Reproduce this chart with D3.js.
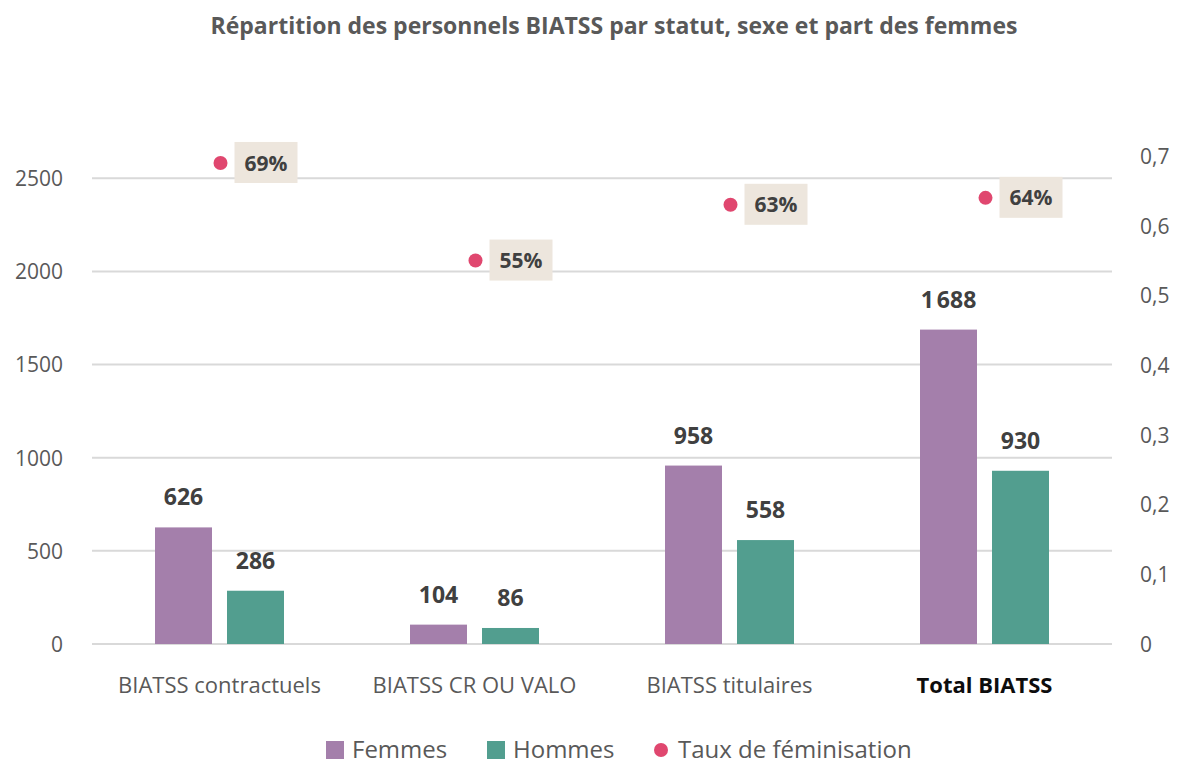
<!DOCTYPE html>
<html>
<head>
<meta charset="utf-8">
<script src="https://cdn.jsdelivr.net/npm/d3@7"></script>
<style>
  body { margin: 0; background: #fff; }
  svg { display: block; }
  svg text { font-family: "Open Sans", "Noto Sans", sans-serif; }
</style>
</head>
<body>
<svg id="chart"></svg>
<script>
// data
const categories = ["BIATSS contractuels", "BIATSS CR OU VALO", "BIATSS titulaires", "Total BIATSS"];
const femmes = [626, 104, 958, 1688];
const hommes = [286, 86, 558, 930];
const taux = [0.69, 0.55, 0.63, 0.64];
const leftTicks = [0, 500, 1000, 1500, 2000, 2500];
const rightTicks = [0, 0.1, 0.2, 0.3, 0.4, 0.5, 0.6, 0.7];

const W = 1183, H = 765;
const colF = "#a47fab", colH = "#529e8f", colDot = "#e0476f";
const svg = d3.select("#chart").attr("width", W).attr("height", H);

const x = d3.scaleBand().domain(categories).range([92, 1112]);
const yL = d3.scaleLinear().domain([0, 2620]).range([644, 156]);
const yR = d3.scaleLinear().domain([0, 0.7]).range([644, 156]);

// thin space as thousands separator, like "1 688"
const fmt = (v) => d3.format(",")(v).replace(/,/g, "\u202f");

// title
svg.append("text")
  .attr("x", 614).attr("y", 34)
  .attr("text-anchor", "middle")
  .style("font-size", "23px").style("font-weight", "bold")
  .attr("fill", "#595959")
  .text("Répartition des personnels BIATSS par statut, sexe et part des femmes");

// gridlines
svg.append("g").selectAll("line").data(leftTicks).enter().append("line")
  .attr("x1", 92).attr("x2", 1112)
  .attr("y1", (d) => yL(d)).attr("y2", (d) => yL(d))
  .attr("stroke", "#d9d9d9").attr("stroke-width", 2);

// left axis
const axL = svg.append("g").attr("transform", "translate(69,0)")
  .call(d3.axisLeft(yL).tickValues(leftTicks).tickSize(0).tickPadding(6).tickFormat(d3.format("d")));
axL.attr("font-family", null).attr("font-size", null);
axL.select(".domain").remove();
axL.selectAll("text").style("font-size", "21px").attr("fill", "#595959").attr("dy", "0.35em");

// right axis
const axR = svg.append("g").attr("transform", "translate(1134,0)")
  .call(d3.axisRight(yR).tickValues(rightTicks).tickSize(0).tickPadding(6)
    .tickFormat((d) => d === 0 ? "0" : d3.format(".1f")(d).replace(".", ",")));
axR.attr("font-family", null).attr("font-size", null);
axR.select(".domain").remove();
axR.selectAll("text").style("font-size", "21px").attr("fill", "#595959").attr("dy", "0.35em");

// bars
const barW = 57, gap = 15;
const cx = (c) => x(c) + x.bandwidth() / 2;

const series = [
  { vals: femmes, col: colF, off: -gap / 2 - barW },
  { vals: hommes, col: colH, off: gap / 2 }
];
series.forEach((s) => {
  const g = svg.append("g");
  g.selectAll("rect").data(categories).enter().append("rect")
    .attr("x", (c) => cx(c) + s.off)
    .attr("y", (c, i) => yL(s.vals[i]))
    .attr("width", barW)
    .attr("height", (c, i) => yL(0) - yL(s.vals[i]))
    .attr("fill", s.col);
  g.selectAll("text").data(categories).enter().append("text")
    .attr("x", (c) => cx(c) + s.off + barW / 2)
    .attr("y", (c, i) => yL(s.vals[i]) - 22)
    .attr("text-anchor", "middle")
    .style("font-size", "23px").style("font-weight", "bold")
    .attr("fill", "#404040")
    .text((c, i) => fmt(s.vals[i]));
});

// taux dots + labels
const gT = svg.append("g");
gT.selectAll("circle").data(categories).enter().append("circle")
  .attr("cx", (c) => cx(c) + 1)
  .attr("cy", (c, i) => yR(taux[i]))
  .attr("r", 7).attr("fill", colDot);
gT.selectAll("rect").data(categories).enter().append("rect")
  .attr("x", (c) => cx(c) + 15)
  .attr("y", (c, i) => yR(taux[i]) - 21)
  .attr("width", 63).attr("height", 41)
  .attr("fill", "#ede6dd");
gT.selectAll("text").data(categories).enter().append("text")
  .attr("x", (c) => cx(c) + 46.5)
  .attr("y", (c, i) => yR(taux[i]))
  .attr("dy", "0.36em")
  .attr("text-anchor", "middle")
  .style("font-size", "21px").style("font-weight", "bold")
  .attr("fill", "#404040")
  .text((c, i) => Math.round(taux[i] * 100) + "%");

// category labels (last one bold)
svg.append("g").selectAll("text").data(categories).enter().append("text")
  .attr("x", (c) => cx(c))
  .attr("y", 693)
  .attr("text-anchor", "middle")
  .style("font-size", "22px")
  .style("font-weight", (c, i) => i === 3 ? "bold" : "normal")
  .attr("fill", (c, i) => i === 3 ? "#0d0d0d" : "#595959")
  .text((c) => c);

// legend
const legend = [
  { label: "Femmes", col: colF, type: "rect", x: 326 },
  { label: "Hommes", col: colH, type: "rect", x: 487 },
  { label: "Taux de féminisation", col: colDot, type: "dot", x: 652 }
];
const gL = svg.append("g");
legend.forEach((d) => {
  if (d.type === "rect") {
    gL.append("rect").attr("x", d.x).attr("y", 741).attr("width", 18).attr("height", 18).attr("fill", d.col);
  } else {
    gL.append("circle").attr("cx", d.x + 9).attr("cy", 750).attr("r", 7).attr("fill", d.col);
  }
  gL.append("text").attr("x", d.x + 26).attr("y", 758)
    .style("font-size", "24px").attr("fill", "#595959").text(d.label);
});
</script>
</body>
</html>
